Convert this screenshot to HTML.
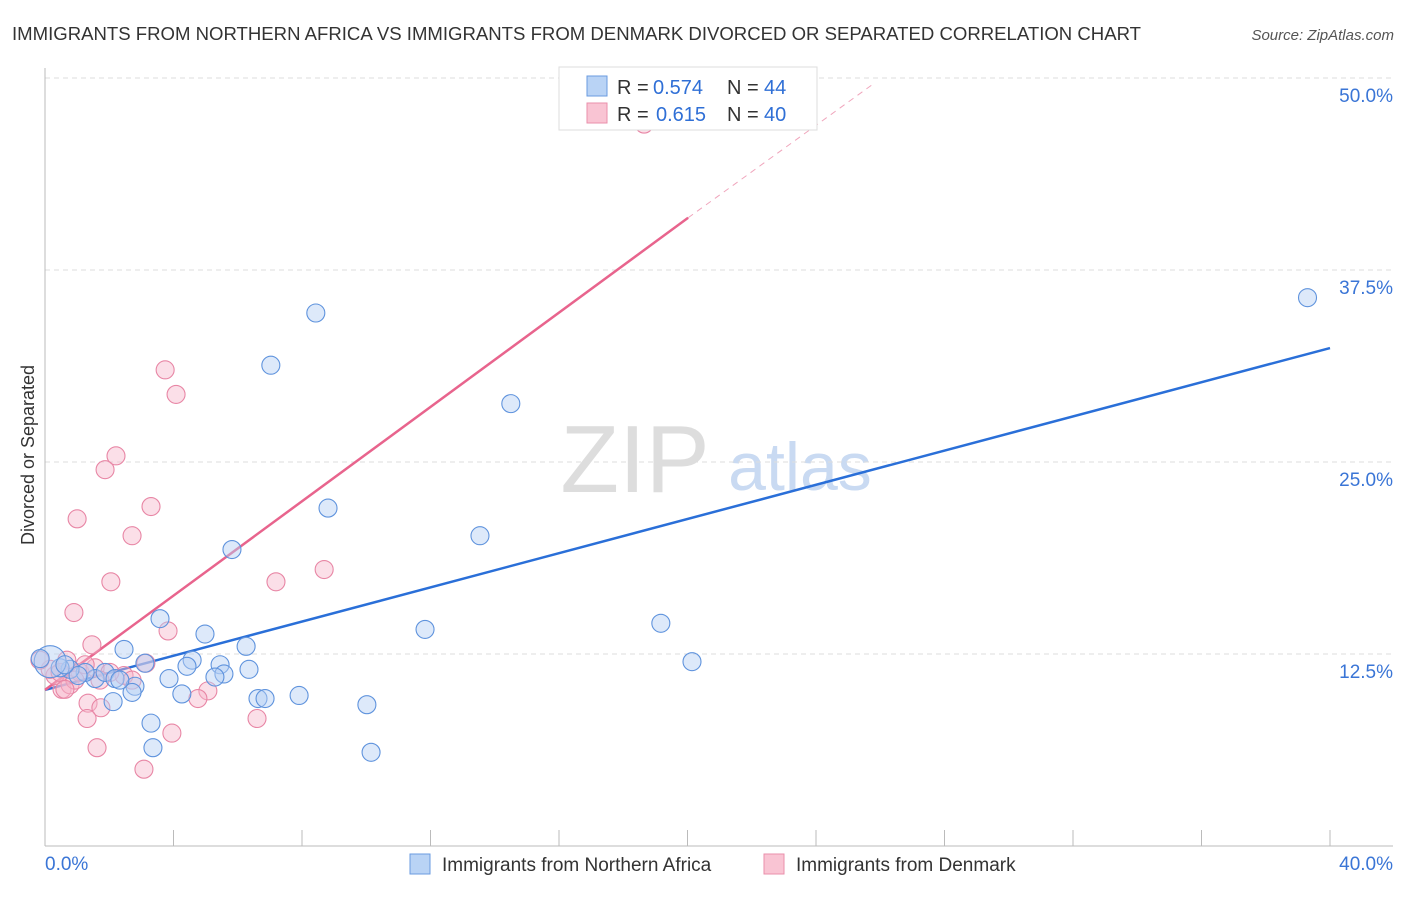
<!DOCTYPE html>
<html><head><meta charset="utf-8"><style>
body{margin:0;background:#fff;font-family:"Liberation Sans",sans-serif}
svg text{font-family:"Liberation Sans",sans-serif}
</style></head><body>
<svg id="chart" width="1406" height="892" xmlns="http://www.w3.org/2000/svg">
<text x="12" y="40" font-size="18" fill="#333" textLength="1129" lengthAdjust="spacingAndGlyphs">IMMIGRANTS FROM NORTHERN AFRICA VS IMMIGRANTS FROM DENMARK DIVORCED OR SEPARATED CORRELATION CHART</text>
<text x="1394" y="40" font-size="15" fill="#555" font-style="italic" text-anchor="end">Source: ZipAtlas.com</text>
<text x="635" y="492" font-size="96" fill="#ddd" font-family="Liberation Serif" text-anchor="middle">ZIP</text>
<text x="800" y="490" font-size="68" fill="#c9daf2" text-anchor="middle">atlas</text>
<text transform="translate(34,455) rotate(-90)" font-size="18" fill="#333" text-anchor="middle">Divorced or Separated</text>
<g id="grid"></g><g id="axes"></g><g id="lines"></g><g id="pts"></g>
<g>
<rect x="559" y="67" width="258" height="63" fill="#fff" stroke="#ddd"/>
<rect x="587" y="76" width="20" height="20" fill="#b9d3f5" stroke="#6a9be0"/>
<rect x="587" y="103" width="20" height="20" fill="#f9c4d3" stroke="#ea8fab"/>
<text x="617" y="94" font-size="20" fill="#333">R = </text><text x="653" y="94" font-size="20" fill="#2f6fd6">0.574</text>
<text x="727" y="94" font-size="20" fill="#333">N = </text><text x="764" y="94" font-size="20" fill="#2f6fd6">44</text>
<text x="617" y="121" font-size="20" fill="#333">R = </text><text x="656" y="121" font-size="20" fill="#2f6fd6">0.615</text>
<text x="727" y="121" font-size="20" fill="#333">N = </text><text x="764" y="121" font-size="20" fill="#2f6fd6">40</text>
</g>
<g>
<rect x="410" y="854" width="20" height="20" fill="#b9d3f5" stroke="#6a9be0"/>
<text x="442" y="871" font-size="19" fill="#333">Immigrants from Northern Africa</text>
<rect x="764" y="854" width="20" height="20" fill="#f9c4d3" stroke="#ea8fab"/>
<text x="796" y="871" font-size="19" fill="#333">Immigrants from Denmark</text>
</g>
</svg>
<script>
const yTicks=[12.5,25,37.5,50];
const yTickLabels=["12.5%","25.0%","37.5%","50.0%"];
const xTickCount=10;
const blueX=[8.43,7.03,14.5,39.3,8.81,13.54,5.82,11.83,19.17,20.14,3.58,4.98,6.26,2.46,4.58,5.45,6.35,3.11,4.42,5.57,5.29,3.86,2.80,2.71,4.26,7.91,6.63,6.85,10.02,2.12,3.3,3.36,10.15,1.56,1.87,1.25,0.78,0.47,0.16,-0.15,2.18,2.33,1.03,0.62];
const blueY=[34.7,31.3,28.8,35.7,22.0,20.2,19.3,14.1,14.5,12.0,14.8,13.8,13.0,12.8,12.1,11.8,11.5,11.9,11.7,11.2,11.0,10.9,10.4,10.0,9.9,9.8,9.6,9.6,9.2,9.4,8.0,6.4,6.1,10.9,11.3,11.3,11.5,11.6,12.0,12.2,10.9,10.8,11.1,11.8];
const blueR=[9,9,9,9,9,9,9,9,9,9,9,9,9,9,9,9,9,9,9,9,9,9,9,9,9,9,9,9,9,9,9,9,9,9,9,9,9,9,16,9,9,9,9,9];
const pinkX=[18.65,3.74,4.08,2.21,1.87,3.3,1.0,2.71,2.05,7.19,8.69,0.9,3.83,1.46,0.68,3.14,2.46,2.71,5.07,4.76,1.34,1.74,1.31,6.6,3.95,1.62,3.08,0.53,0.78,0.31,0.16,0.47,1.09,1.56,2.02,-0.16,1.71,0.93,0.62,1.25];
const pinkY=[47.0,31.0,29.4,25.4,24.5,22.1,21.3,20.2,17.2,17.2,18.0,15.2,14.0,13.1,12.1,11.9,11.1,10.8,10.1,9.6,9.3,9.0,8.3,8.3,7.35,6.4,5.0,10.2,10.5,11.1,11.5,11.3,11.3,11.6,11.3,12.1,10.8,10.8,10.2,11.8];
const svg=document.getElementById('chart');
const NS='http://www.w3.org/2000/svg';
const X=v=>45+v*32.125, Y=v=>846-v*15.36;
function mk(p,t,a){const e=document.createElementNS(NS,t);for(const k in a)e.setAttribute(k,a[k]);document.getElementById(p).appendChild(e);return e;}
yTicks.forEach((v,i)=>{
 const g=mk('grid','line',{x1:45,x2:1393,y1:Y(v),y2:Y(v),stroke:'#ddd','stroke-dasharray':'5,4'});
 
 
 const t=mk('grid','text',{x:1393,y:Y(v)+24,'font-size':19,fill:'#3a75d6','text-anchor':'end'});
 t.textContent=yTickLabels[i];
 
 
});
mk('axes','line',{x1:45,x2:45,y1:68,y2:846,stroke:'#bbb'});
mk('axes','line',{x1:45,x2:1393,y1:846,y2:846,stroke:'#bbb'});
for(let i=1;i<=xTickCount;i++){const t=mk('axes','line',{x1:X(i*4),x2:X(i*4),y1:830,y2:846,stroke:'#bbb'});
 
 }
let xl=mk('axes','text',{x:45,y:870,'font-size':19,fill:'#3a75d6'});xl.textContent='0.0%';


let xr=mk('axes','text',{x:1393,y:870,'font-size':19,fill:'#3a75d6','text-anchor':'end'});xr.textContent='40.0%';


function pts(xs,ys,rs,fill,stroke,name){xs.forEach((x,i)=>{const c=mk('pts','circle',{cx:X(x),cy:Y(ys[i]),r:rs?rs[i]:9,fill:fill,'fill-opacity':0.45,stroke:stroke,'stroke-width':1.1});
 
 });}
pts(pinkX,pinkY,null,'#f7b8cb','#e886a5','point-denmark');
pts(blueX,blueY,blueR,'#b3cef3','#5f93dd','point-northern-africa');
const bl=mk('lines','line',{x1:X(0),y1:Y(10.16),x2:X(40),y2:Y(32.42),stroke:'#2a6fd8','stroke-width':2.5});


const pl=mk('lines','line',{x1:X(0),y1:Y(10.16),x2:X(20.02),y2:Y(40.9),stroke:'#e8648d','stroke-width':2.5});


const pd=mk('lines','line',{x1:X(20.02),y1:Y(40.9),x2:X(25.84),y2:Y(49.7),stroke:'#f0a5bc','stroke-width':1,'stroke-dasharray':'6,5'});


</script>
</body></html>
